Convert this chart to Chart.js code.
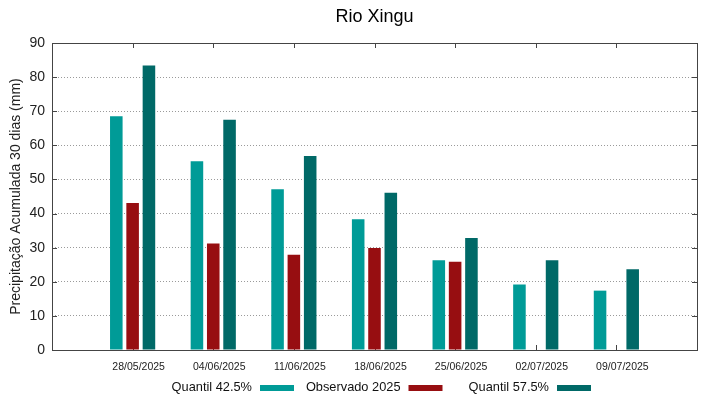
<!DOCTYPE html>
<html>
<head>
<meta charset="utf-8">
<title>Rio Xingu</title>
<script src="https://cdn.jsdelivr.net/npm/chart.js@4.4.1/dist/chart.umd.min.js"></script>
<style>
  html, body { margin: 0; padding: 0; background: #fff; }
</style>
</head>
<body>
<canvas id="chart" width="719" height="399"></canvas>
<script>
// data
const datas = ["28/05/2025", "04/06/2025", "11/06/2025", "18/06/2025", "25/06/2025", "02/07/2025", "09/07/2025"];
const quantil425 = [68.5, 55.3, 47.1, 38.3, 26.3, 19.2, 17.4];
const observado2025 = [43.1, 31.2, 27.9, 29.9, 25.9, null, null];
const quantil575 = [83.4, 67.5, 56.9, 46.1, 32.8, 26.3, 23.7];
const yTicks = [0, 10, 20, 30, 40, 50, 60, 70, 80, 90];

const mainFont = "'Liberation Sans', Arial, sans-serif";
const frameColor = "#444";
const chartTitle = "Rio Xingu";

// one empty slot on each side, like the gnuplot x range
const labels = ["", ...datas, ""];
const pad = (arr) => [null, ...arr, null];

const frameAndTicks = {
  id: "frameAndTicks",
  beforeDatasetsDraw(chart) {
    const { ctx, chartArea: a, scales: { x, y } } = chart;
    ctx.save();
    ctx.strokeStyle = frameColor;
    ctx.lineWidth = 1;
    ctx.beginPath();
    yTicks.forEach((v) => {
      const py = Math.round(y.getPixelForValue(v)) + 0.5;
      ctx.moveTo(a.left, py);
      ctx.lineTo(a.left + 5, py);
      ctx.moveTo(a.right, py);
      ctx.lineTo(a.right - 5, py);
    });
    datas.forEach((d, i) => {
      const px = Math.round(x.getPixelForValue(i + 1)) + 0.5;
      ctx.moveTo(px, a.bottom);
      ctx.lineTo(px, a.bottom - 5);
      ctx.moveTo(px, a.top);
      ctx.lineTo(px, a.top + 5);
    });
    ctx.stroke();
    ctx.restore();
  },
  afterDatasetsDraw(chart) {
    const { ctx, chartArea: a } = chart;
    ctx.save();
    ctx.strokeStyle = frameColor;
    ctx.lineWidth = 1;
    ctx.strokeRect(Math.round(a.left) + 0.5, Math.round(a.top) + 0.5,
      Math.round(a.right - a.left), Math.round(a.bottom - a.top));
    ctx.restore();
  },
  afterDraw(chart) {
    const { ctx, chartArea: a } = chart;
    ctx.save();
    // title centred over the plot area
    ctx.font = "18px " + mainFont;
    ctx.fillStyle = "#000";
    ctx.textAlign = "center";
    ctx.textBaseline = "alphabetic";
    ctx.fillText(chartTitle, (a.left + a.right) / 2, 22);

    // gnuplot style key: text right aligned, sample to its right
    ctx.font = "12.8px " + mainFont;
    ctx.textAlign = "right";
    ctx.textBaseline = "middle";
    chart.data.datasets.forEach((ds, i) => {
      const sx = a.left + 208 + i * 148.5;
      const cy = a.bottom + 37;
      ctx.fillStyle = "#111";
      ctx.fillText(ds.label, sx - 8, cy);
      ctx.fillStyle = ds.backgroundColor;
      ctx.fillRect(sx, cy - 2, 34, 6);
    });
    ctx.restore();
  }
};

new Chart(document.getElementById("chart"), {
  type: "bar",
  data: {
    labels: labels,
    datasets: [
      { label: "Quantil 42.5%", data: pad(quantil425), backgroundColor: "#009b97" },
      { label: "Observado 2025", data: pad(observado2025), backgroundColor: "#970e11" },
      { label: "Quantil 57.5%", data: pad(quantil575), backgroundColor: "#006967" },
    ],
  },
  options: {
    responsive: false,
    animation: false,
    devicePixelRatio: 1,
    categoryPercentage: 0.607,
    barPercentage: 0.77,
    layout: { padding: { left: 0, right: 22, top: 43, bottom: 0 } },
    plugins: {
      legend: { display: false },
      tooltip: { enabled: false },
      title: { display: false },
    },
    scales: {
      x: {
        type: "category",
        offset: false,
        grid: { display: false, drawTicks: false },
        border: { display: false },
        ticks: {
          autoSkip: false,
          maxRotation: 0,
          padding: 11,
          labelOffset: 6,
          color: "#222",
          font: { family: mainFont, size: 10.5 },
        },
        afterFit(scale) { scale.height = 49; },
      },
      y: {
        min: 0,
        max: 90,
        grid: { color: "#9a9a9a", lineWidth: 1, drawTicks: false },
        border: { display: false, dash: [1, 2] },
        ticks: {
          stepSize: 10,
          padding: 7,
          color: "#222",
          font: { family: mainFont, size: 14 },
        },
        title: {
          display: true,
          text: "Precipitação Acumulada 30 dias (mm)",
          color: "#222",
          font: { family: mainFont, size: 14 },
          padding: { top: 8, bottom: 0 },
        },
        afterFit(scale) { scale.width = 52; },
      },
    },
  },
  plugins: [frameAndTicks],
});
</script>
</body>
</html>
